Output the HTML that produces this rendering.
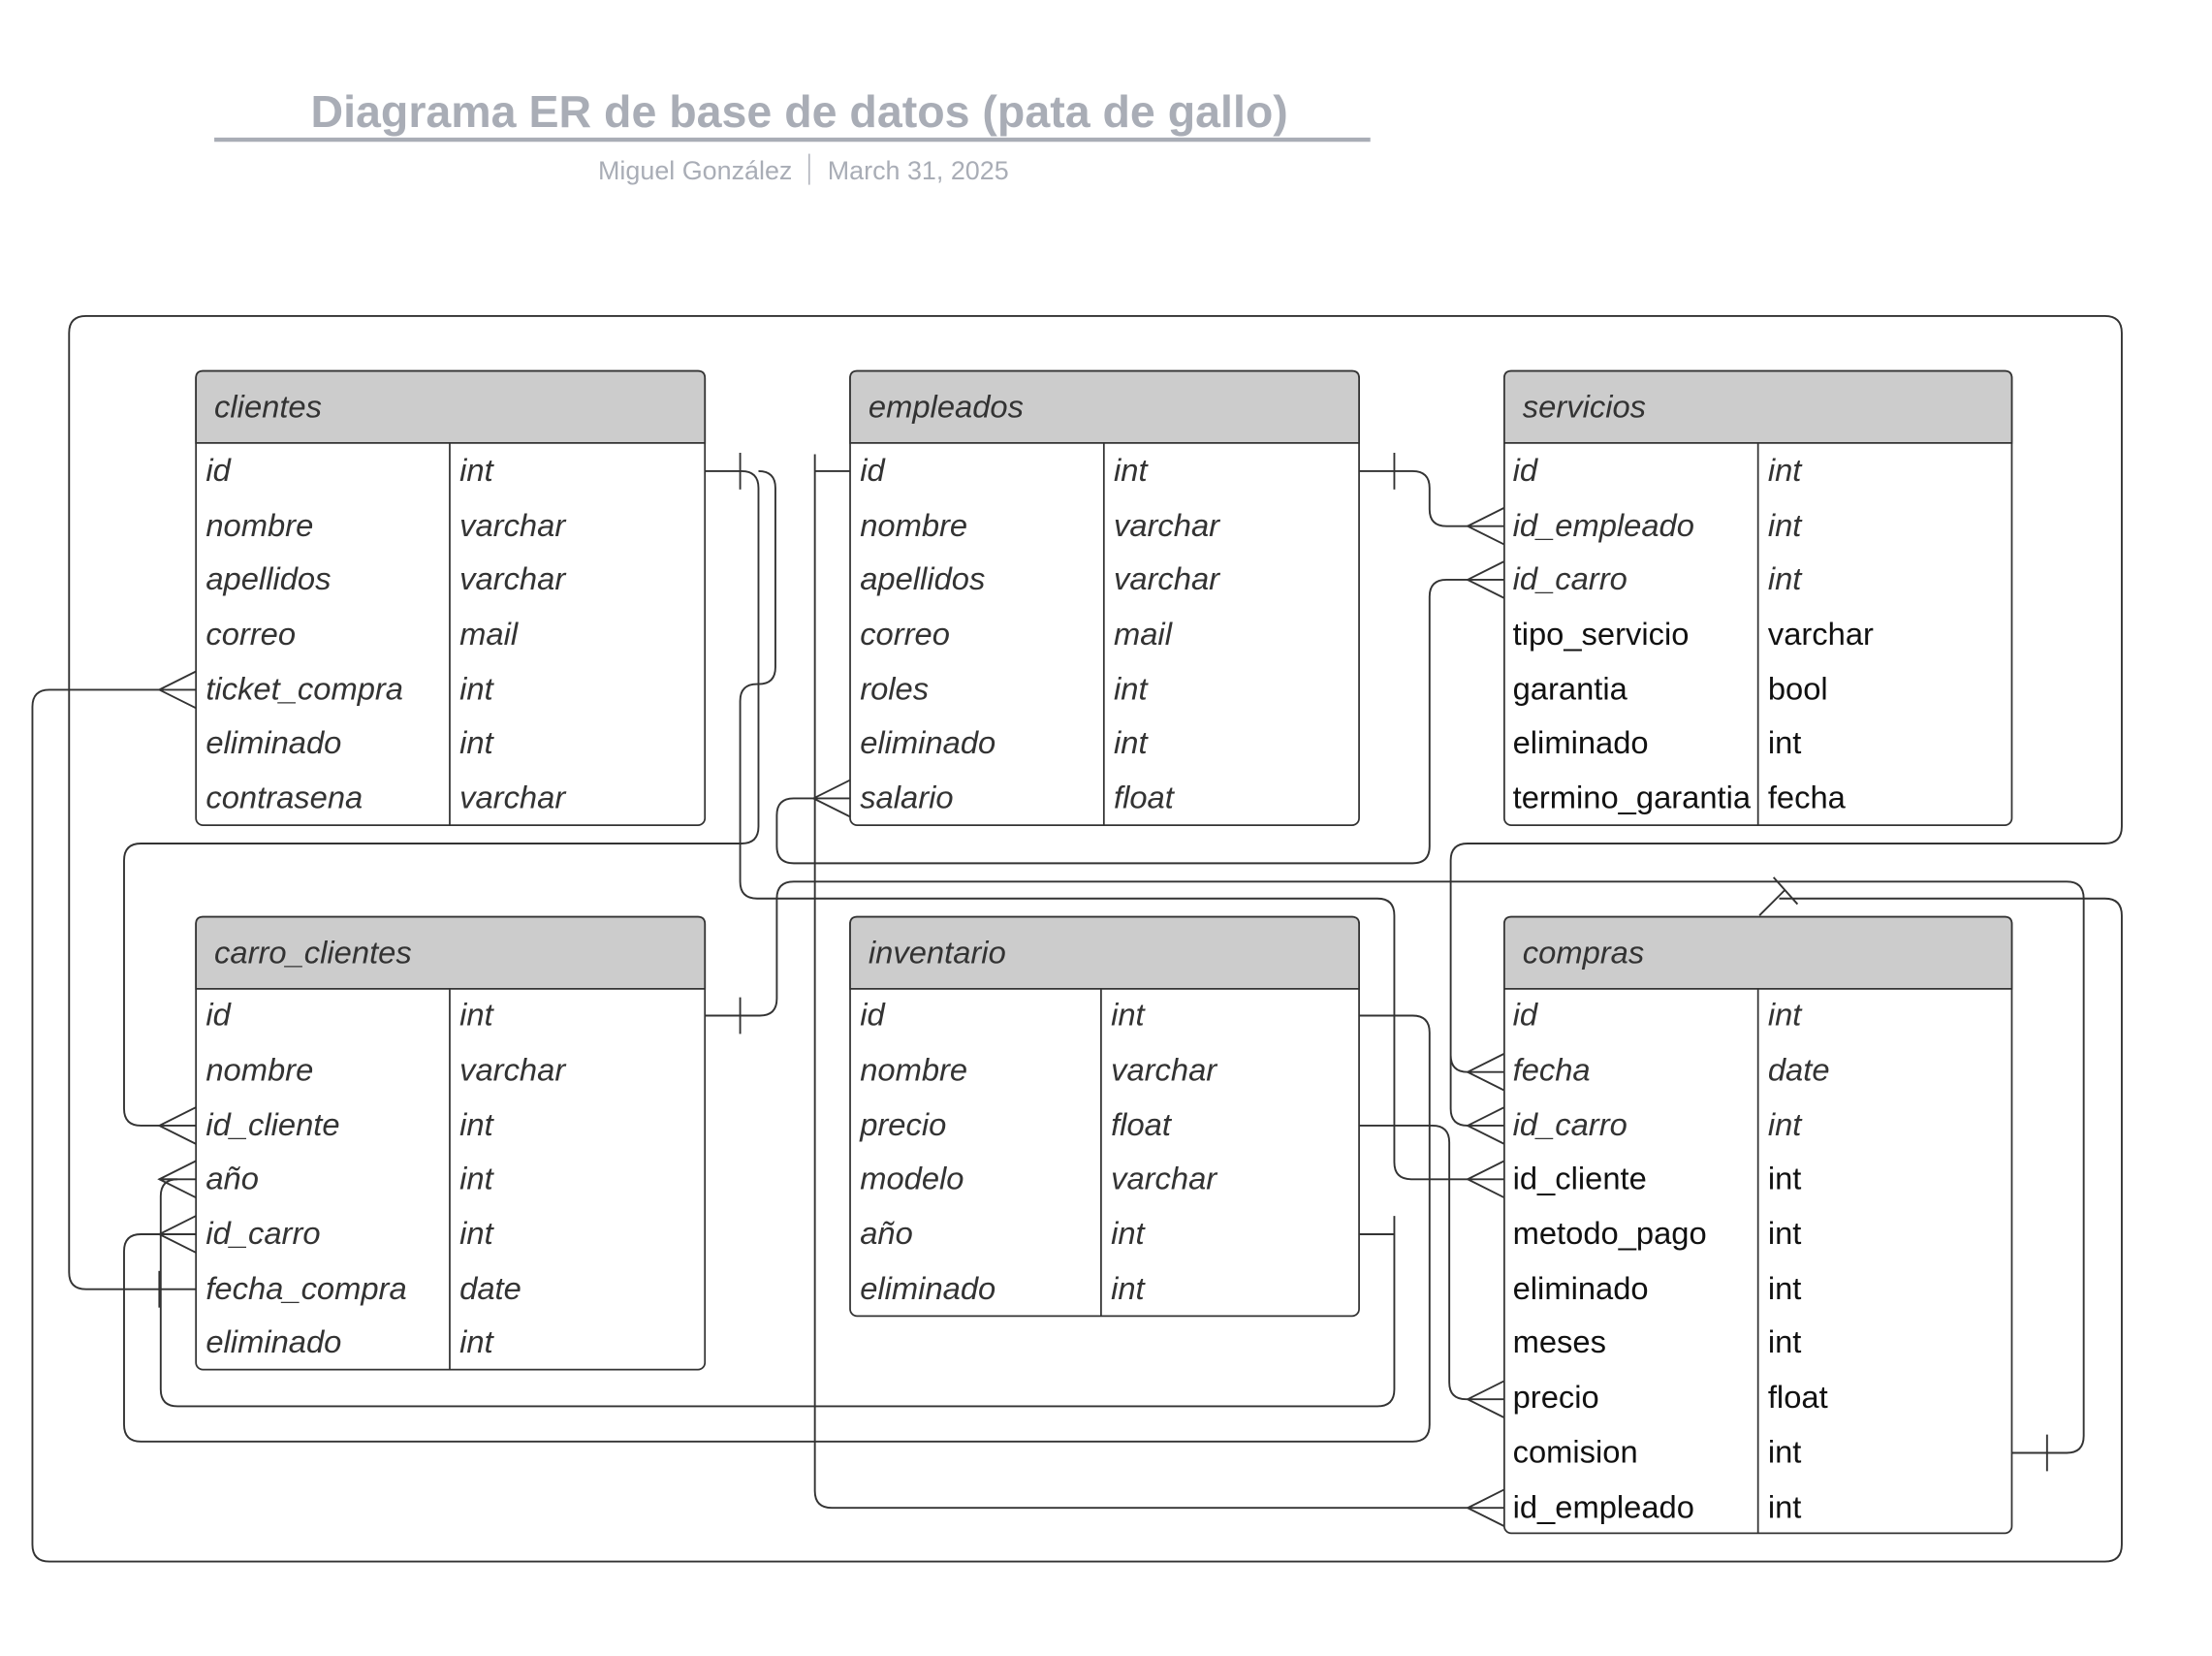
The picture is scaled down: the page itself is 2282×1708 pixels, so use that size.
<!DOCTYPE html>
<html><head><meta charset="utf-8"><style>
html,body{margin:0;padding:0;background:#fff;}
svg{display:block;}
.t{font-family:"Liberation Sans",sans-serif;font-size:22.5px;fill:#333;}
.i{font-style:italic;}
.b{fill:#111;}
.h{font-family:"Liberation Sans",sans-serif;font-size:22.5px;font-style:italic;fill:#333;}
.l{fill:none;stroke:#333;stroke-width:1.3;}
</style></head><body>
<svg width="2282" height="1708" viewBox="0 0 1569 1174" preserveAspectRatio="none" xmlns="http://www.w3.org/2000/svg">
<rect x="0" y="0" width="1569" height="1174" fill="#fff"/>
<text x="567" y="90" text-anchor="middle" font-family="Liberation Sans, sans-serif" font-weight="bold" font-size="32" fill="#a9adb6">Diagrama ER de base de datos (pata de gallo)</text>
<line x1="152" y1="99" x2="972" y2="99" stroke="#a9adb6" stroke-width="3"/>
<text x="562" y="127" text-anchor="end" font-family="Liberation Sans, sans-serif" font-size="18.5" fill="#a9adb6">Miguel González</text>
<line x1="574" y1="109" x2="574" y2="131" stroke="#a9adb6" stroke-width="1"/>
<text x="587" y="127" font-family="Liberation Sans, sans-serif" font-size="18.5" fill="#a9adb6">March 31, 2025</text>

<g class="l">
<path d="M113,489 H35 Q23,489 23,501 V1095 Q23,1107 35,1107 H1493 Q1505,1107 1505,1095 V649 Q1505,637 1493,637 H1262"/>
<path d="M1248,649 L1266,631 M1258,622 L1275,641"/>
<path d="M139,914 H61 Q49,914 49,902 V236 Q49,224 61,224 H1493 Q1505,224 1505,236 V586 Q1505,598 1493,598 H1041 Q1029,598 1029,610 V748 Q1029,760 1041,760 M1029,748 V786 Q1029,798 1041,798"/>
<path d="M113,901 V927"/>
<path d="M500,334 H526 Q538,334 538,346 V586 Q538,598 526,598 H100 Q88,598 88,610 V786 Q88,798 100,798 H113"/>
<path d="M525,321 V347"/>
<path d="M538,334 Q550,334 550,346 V473 Q550,485 538,485 H537 Q525,485 525,497 V625 Q525,637 537,637 H977 Q989,637 989,649 V824 Q989,836 1001,836 H1041"/>
<path d="M964,334 H1002 Q1014,334 1014,346 V361 Q1014,373 1026,373 H1041"/>
<path d="M989,321 V347"/>
<path d="M578,322 V1057 Q578,1069 590,1069 H1041 M578,334 H603"/>
<path d="M577,566 H563 Q551,566 551,578 V600 Q551,612 563,612 H1002 Q1014,612 1014,600 V423 Q1014,411 1026,411 H1041"/>
<path d="M500,720 H539 Q551,720 551,708 V637 Q551,625 563,625 H1466 Q1478,625 1478,637 V1018 Q1478,1030 1466,1030 H1427"/>
<path d="M525,707 V733 M1452,1017 V1043"/>
<path d="M964,720 H1002 Q1014,720 1014,732 V1010 Q1014,1022 1002,1022 H100 Q88,1022 88,1010 V887 Q88,875 100,875 H113"/>
<path d="M964,798 H1016 Q1028,798 1028,810 V980 Q1028,992 1040,992 H1041"/>
<path d="M964,875 H989 M989,862 V985 Q989,997 977,997 H126 Q114,997 114,985 V848 Q114,836 126,836 H113"/>
<path d="M139,476 L113,489 L139,502 M113,489 H139"/>
<path d="M139,785 L113,798 L139,811 M113,798 H139"/>
<path d="M139,823 L113,836 L139,849 M113,836 H139"/>
<path d="M139,862 L113,875 L139,888 M113,875 H139"/>
<path d="M603,553 L577,566 L603,579 M577,566 H603"/>
<path d="M1067,360 L1041,373 L1067,386 M1041,373 H1067"/>
<path d="M1067,398 L1041,411 L1067,424 M1041,411 H1067"/>
<path d="M1067,747 L1041,760 L1067,773 M1041,760 H1067"/>
<path d="M1067,785 L1041,798 L1067,811 M1041,798 H1067"/>
<path d="M1067,823 L1041,836 L1067,849 M1041,836 H1067"/>
<path d="M1067,979 L1041,992 L1067,1005 M1041,992 H1067"/>
<path d="M1067,1056 L1041,1069 L1067,1082 M1041,1069 H1067"/>
</g>

<g>
<rect x="139" y="263" width="361" height="322" rx="5" fill="#fff" stroke="#333" stroke-width="1.2"/>
<path d="M139,314 V268 Q139,263 144,263 H495 Q500,263 500,268 V314 Z" fill="#cccccc" stroke="#333" stroke-width="1.2"/>
<line x1="319" y1="314" x2="319" y2="585" stroke="#333" stroke-width="1.2"/>
<text class="h" x="152" y="296">clientes</text>
<g class="t i">
<text x="146" y="341">id</text><text x="326" y="341">int</text>
<text x="146" y="380">nombre</text><text x="326" y="380">varchar</text>
<text x="146" y="418">apellidos</text><text x="326" y="418">varchar</text>
<text x="146" y="457">correo</text><text x="326" y="457">mail</text>
<text x="146" y="496">ticket_compra</text><text x="326" y="496">int</text>
<text x="146" y="534">eliminado</text><text x="326" y="534">int</text>
<text x="146" y="573">contrasena</text><text x="326" y="573">varchar</text>
</g>
<rect x="603" y="263" width="361" height="322" rx="5" fill="#fff" stroke="#333" stroke-width="1.2"/>
<path d="M603,314 V268 Q603,263 608,263 H959 Q964,263 964,268 V314 Z" fill="#cccccc" stroke="#333" stroke-width="1.2"/>
<line x1="783" y1="314" x2="783" y2="585" stroke="#333" stroke-width="1.2"/>
<text class="h" x="616" y="296">empleados</text>
<g class="t i">
<text x="610" y="341">id</text><text x="790" y="341">int</text>
<text x="610" y="380">nombre</text><text x="790" y="380">varchar</text>
<text x="610" y="418">apellidos</text><text x="790" y="418">varchar</text>
<text x="610" y="457">correo</text><text x="790" y="457">mail</text>
<text x="610" y="496">roles</text><text x="790" y="496">int</text>
<text x="610" y="534">eliminado</text><text x="790" y="534">int</text>
<text x="610" y="573">salario</text><text x="790" y="573">float</text>
</g>
<rect x="1067" y="263" width="360" height="322" rx="5" fill="#fff" stroke="#333" stroke-width="1.2"/>
<path d="M1067,314 V268 Q1067,263 1072,263 H1422 Q1427,263 1427,268 V314 Z" fill="#cccccc" stroke="#333" stroke-width="1.2"/>
<line x1="1247" y1="314" x2="1247" y2="585" stroke="#333" stroke-width="1.2"/>
<text class="h" x="1080" y="296">servicios</text>
<g class="t i">
<text x="1073" y="341">id</text><text x="1254" y="341">int</text>
<text x="1073" y="380">id_empleado</text><text x="1254" y="380">int</text>
<text x="1073" y="418">id_carro</text><text x="1254" y="418">int</text>
</g>
<g class="t b">
<text x="1073" y="457">tipo_servicio</text><text x="1254" y="457">varchar</text>
<text x="1073" y="496">garantia</text><text x="1254" y="496">bool</text>
<text x="1073" y="534">eliminado</text><text x="1254" y="534">int</text>
<text x="1073" y="573">termino_garantia</text><text x="1254" y="573">fecha</text>
</g>
<rect x="139" y="650" width="361" height="321" rx="5" fill="#fff" stroke="#333" stroke-width="1.2"/>
<path d="M139,701 V655 Q139,650 144,650 H495 Q500,650 500,655 V701 Z" fill="#cccccc" stroke="#333" stroke-width="1.2"/>
<line x1="319" y1="701" x2="319" y2="971" stroke="#333" stroke-width="1.2"/>
<text class="h" x="152" y="683">carro_clientes</text>
<g class="t i">
<text x="146" y="727">id</text><text x="326" y="727">int</text>
<text x="146" y="766">nombre</text><text x="326" y="766">varchar</text>
<text x="146" y="805">id_cliente</text><text x="326" y="805">int</text>
<text x="146" y="843">año</text><text x="326" y="843">int</text>
<text x="146" y="882">id_carro</text><text x="326" y="882">int</text>
<text x="146" y="921">fecha_compra</text><text x="326" y="921">date</text>
<text x="146" y="959">eliminado</text><text x="326" y="959">int</text>
</g>
<rect x="603" y="650" width="361" height="283" rx="5" fill="#fff" stroke="#333" stroke-width="1.2"/>
<path d="M603,701 V655 Q603,650 608,650 H959 Q964,650 964,655 V701 Z" fill="#cccccc" stroke="#333" stroke-width="1.2"/>
<line x1="781" y1="701" x2="781" y2="933" stroke="#333" stroke-width="1.2"/>
<text class="h" x="616" y="683">inventario</text>
<g class="t i">
<text x="610" y="727">id</text><text x="788" y="727">int</text>
<text x="610" y="766">nombre</text><text x="788" y="766">varchar</text>
<text x="610" y="805">precio</text><text x="788" y="805">float</text>
<text x="610" y="843">modelo</text><text x="788" y="843">varchar</text>
<text x="610" y="882">año</text><text x="788" y="882">int</text>
<text x="610" y="921">eliminado</text><text x="788" y="921">int</text>
</g>
<rect x="1067" y="650" width="360" height="437" rx="5" fill="#fff" stroke="#333" stroke-width="1.2"/>
<path d="M1067,701 V655 Q1067,650 1072,650 H1422 Q1427,650 1427,655 V701 Z" fill="#cccccc" stroke="#333" stroke-width="1.2"/>
<line x1="1247" y1="701" x2="1247" y2="1087" stroke="#333" stroke-width="1.2"/>
<text class="h" x="1080" y="683">compras</text>
<g class="t i">
<text x="1073" y="727">id</text><text x="1254" y="727">int</text>
<text x="1073" y="766">fecha</text><text x="1254" y="766">date</text>
<text x="1073" y="805">id_carro</text><text x="1254" y="805">int</text>
</g>
<g class="t b">
<text x="1073" y="843">id_cliente</text><text x="1254" y="843">int</text>
<text x="1073" y="882">metodo_pago</text><text x="1254" y="882">int</text>
<text x="1073" y="921">eliminado</text><text x="1254" y="921">int</text>
<text x="1073" y="959">meses</text><text x="1254" y="959">int</text>
<text x="1073" y="998">precio</text><text x="1254" y="998">float</text>
<text x="1073" y="1037">comision</text><text x="1254" y="1037">int</text>
<text x="1073" y="1076">id_empleado</text><text x="1254" y="1076">int</text>
</g>
</g>
</svg>
</body></html>
